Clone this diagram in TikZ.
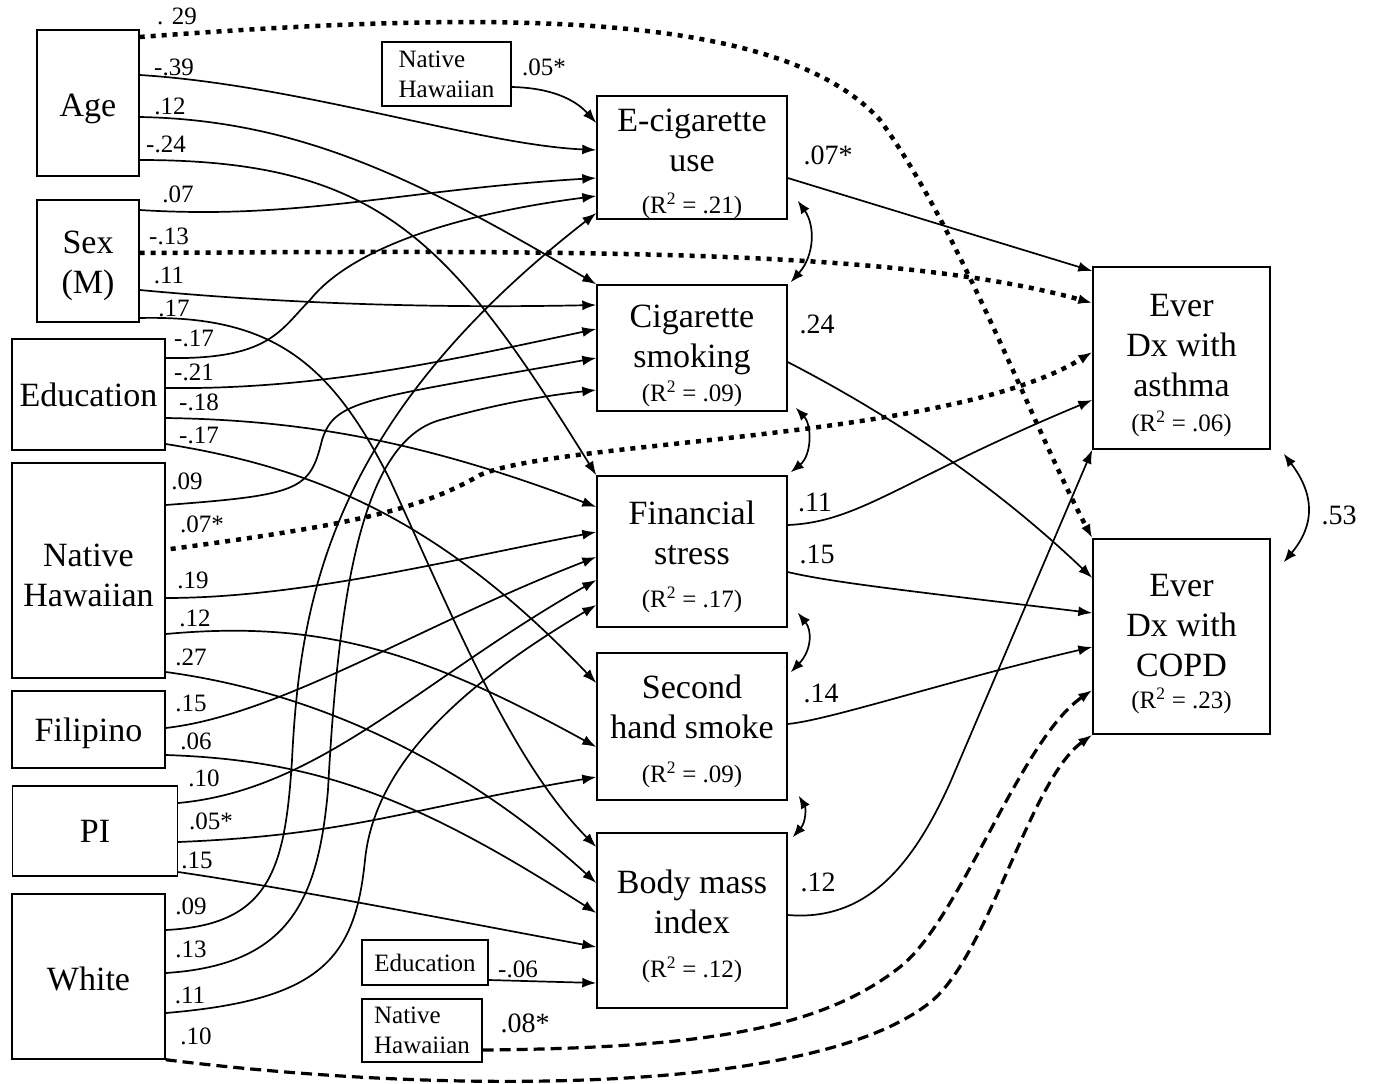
\documentclass[tikz,border=0pt]{standalone}
\usepackage{fontspec}
\setmainfont{Liberation Serif}
\usetikzlibrary{arrows.meta}
\newcommand\rsq[1]{{\fontsize{25}{28}\selectfont(R\textsuperscript{2} = #1)}}
\newcommand\tstrut[1]{\rule{0pt}{#1}}
\begin{document}
\begin{tikzpicture}[x=1pt,y=-1pt,
  box/.style={draw, line width=1.4pt, inner sep=0pt, align=center, font=\fontsize{34}{40}\selectfont},
  sbox/.style={draw, line width=1.2pt, inner sep=0pt, align=left, font=\fontsize{25}{30}\selectfont},
  conn/.style={line width=1.7pt, -{Latex[length=14pt,width=10pt]}},
  dotconn/.style={conn, line width=4.5pt, dash pattern=on 5pt off 6pt},
  dashconn/.style={conn, line width=3.2pt, dash pattern=on 11pt off 6pt},
  cov/.style={line width=1.7pt, {Latex[length=13pt,width=10pt]}-{Latex[length=13pt,width=10pt]}},
  lab/.style={inner sep=0pt, font=\fontsize{25}{25}\selectfont},
  rlab/.style={inner sep=0pt, font=\fontsize{28}{28}\selectfont}]
\useasboundingbox (0,0) rectangle (1374,1084);
\fill[white] (0,0) rectangle (1374,1084);
% exogenous boxes
\node[box, minimum width=102pt, minimum height=146pt] (age) at (88,103) {\tstrut{34pt}Age};
\node[box, minimum width=102pt, minimum height=122pt] (sex) at (88,261) {\tstrut{32pt}Sex\\(M)};
\node[box, minimum width=153pt, minimum height=111pt] (edu) at (88.5,394.5) {Education};
\node[box, minimum width=153pt, minimum height=215pt] (nh) at (88.5,570.5) {\tstrut{32pt}Native\\Hawaiian};
\node[box, minimum width=153pt, minimum height=77pt] (fil) at (88.5,729.5) {\tstrut{31pt}Filipino};
\node[box, minimum width=165pt, minimum height=90pt] (pi) at (95,831) {PI};
\node[box, minimum width=153pt, minimum height=165pt] (white) at (88.5,976.5) {\tstrut{28pt}White};
% mediators
\node[box, minimum width=190pt, minimum height=123pt] (ecig) at (692,157.5) {\tstrut{35pt}E-cigarette\\use\\[2pt]\rsq{.21}};
\node[box, minimum width=190pt, minimum height=126pt] (cig) at (692,348) {\tstrut{38pt}Cigarette\\smoking\\[-6pt]\rsq{.09}};
\node[box, minimum width=190pt, minimum height=151pt] (fin) at (692,551.5) {\tstrut{34pt}Financial\\stress\\[3pt]\rsq{.17}};
\node[box, minimum width=190pt, minimum height=147pt] (shs) at (692,726.5) {\tstrut{33pt}Second\\hand smoke\\[4pt]\rsq{.09}};
\node[box, minimum width=190pt, minimum height=175pt] (bmi) at (692,920.5) {\tstrut{35pt}Body mass\\index\\[4pt]\rsq{.12}};
% outcomes
\node[box, minimum width=177pt, minimum height=182pt] (asth) at (1181.5,358) {\tstrut{38pt}Ever\\Dx with\\asthma\\[-5pt]\rsq{.06}};
\node[box, minimum width=177pt, minimum height=195pt] (copd) at (1181.5,636.5) {\tstrut{38pt}Ever\\Dx with\\COPD\\[-8pt]\rsq{.23}};
% small covariate boxes
\node[sbox, minimum width=129pt, minimum height=64pt] (nhb) at (446.5,74) {Native\\Hawaiian};
\node[sbox, minimum width=126pt, minimum height=45pt] (edub) at (425,962.5) {Education};
\node[sbox, minimum width=120pt, minimum height=63pt] (nhc) at (422,1030.5) {Native\\Hawaiian};

% Age
\draw[dotconn] (age.east |- 0,37) .. controls (500,10) and (780,10) .. (880,120) .. controls (960,230) and (1030,420) .. (copd.north west);
\draw[conn] (age.east |- 0,75) .. controls (300,85) and (480,145) .. (ecig.west |- 0,150);
\draw[conn] (age.east |- 0,117) .. controls (300,120) and (420,180) .. (cig.north west);
\draw[conn] (age.east |- 0,160) .. controls (380,160) and (450,240) .. (fin.north west);
% Sex
\draw[conn] (sex.east |- 0,210) .. controls (300,220) and (400,190) .. (ecig.west |- 0,178);
\draw[dotconn] (sex.east |- 0,253) .. controls (600,250) and (900,250) .. (asth.west |- 0,303);
\draw[conn] (sex.east |- 0,290) .. controls (300,305) and (450,308) .. (cig.west |- 0,305);
\draw[conn] (sex.east |- 0,318) .. controls (270,315) and (330,360) .. (390,480) .. controls (450,610) and (510,760) .. (bmi.west |- 0,847);
% Education
\draw[conn] (edu.east |- 0,358) .. controls (270,360) and (280,330) .. (310,300) .. controls (350,250) and (450,215) .. (ecig.west |- 0,196);
\draw[conn] (edu.east |- 0,388) .. controls (320,390) and (450,360) .. (cig.west |- 0,329);
\draw[conn] (edu.east |- 0,418) .. controls (300,420) and (420,440) .. (fin.west |- 0,507);
\draw[conn] (edu.east |- 0,444) .. controls (330,470) and (450,530) .. (shs.west |- 0,683);
% Native Hawaiian
\draw[conn] (nh.east |- 0,505) .. controls (300,495) and (310,490) .. (322,440) .. controls (335,400) and (360,400) .. (cig.west |- 0,358);
\draw[dotconn] ([xshift=5pt]nh.east |- 0,549) .. controls (350,525) and (420,510) .. (480,475) .. controls (560,440) and (950,440) .. (asth.west |- 0,352);
\draw[conn] (nh.east |- 0,598) .. controls (300,598) and (450,560) .. (fin.west |- 0,532);
\draw[conn] (nh.east |- 0,634) .. controls (320,620) and (420,650) .. (shs.west |- 0,747);
\draw[conn] (nh.east |- 0,672) .. controls (300,690) and (450,750) .. (bmi.west |- 0,883);
% Filipino
\draw[conn] (fil.east |- 0,728) .. controls (280,715) and (420,625) .. (fin.west |- 0,557);
\draw[conn] (fil.east |- 0,755) .. controls (320,760) and (420,800) .. (bmi.west |- 0,913);
% PI
\draw[conn] (pi.east |- 0,803) .. controls (320,790) and (420,680) .. (fin.west |- 0,580);
\draw[conn] (pi.east |- 0,842) .. controls (350,835) and (400,810) .. (shs.west |- 0,777);
\draw[conn] (pi.east |- 0,872) .. controls (300,890) and (450,920) .. (bmi.west |- 0,947);
% White
\draw[conn] (white.east |- 0,930) .. controls (270,925) and (285,870) .. (292,760) .. controls (300,600) and (330,420) .. (ecig.west |- 0,213);
\draw[conn] (white.east |- 0,973) .. controls (290,965) and (318,900) .. (328,790) .. controls (340,560) and (370,440) .. (440,420) .. controls (500,403) and (550,395) .. (cig.west |- 0,390);
\draw[conn] (white.east |- 0,1013) .. controls (320,1000) and (355,960) .. (365,860) .. controls (375,760) and (470,680) .. (fin.west |- 0,605);
\draw[dashconn] (white.south east) .. controls (450,1095) and (820,1095) .. (933,1000) .. controls (990,950) and (1030,780) .. (copd.south west);
% small boxes
\draw[conn] (nhb.east |- 0,87) .. controls (560,88) and (580,105) .. (ecig.west |- 0,123);
\draw[conn] (edub.east |- 0,980) -- (bmi.west |- 0,983);
\draw[dashconn] (nhc.east |- 0,1050) .. controls (700,1048) and (820,1030) .. (900,967) .. controls (960,920) and (1020,740) .. (copd.west |- 0,690);
% mediators to outcomes
\draw[conn] (ecig.east |- 0,178) -- (asth.west |- 0,271);
\draw[conn] (cig.east |- 0,362) .. controls (900,420) and (1000,490) .. (copd.west |- 0,578);
\draw[conn] (fin.east |- 0,525) .. controls (860,522) and (900,480) .. (asth.west |- 0,400);
\draw[conn] (fin.east |- 0,572) .. controls (830,582) and (900,590) .. (copd.west |- 0,613);
\draw[conn] (shs.east |- 0,724) .. controls (830,720) and (950,680) .. (copd.west |- 0,647);
\draw[conn] (bmi.east |- 0,915) .. controls (870,922) and (915,860) .. (950,783) -- (asth.south west);
% covariances
\draw[cov] ([shift={(10,-19)}]ecig.south east) .. controls (815,225) and (815,255) .. ([shift={(3,-2)}]cig.north east);
\draw[cov] ([shift={(8,-4)}]cig.south east) .. controls (812,425) and (812,455) .. ([shift={(3,-3)}]fin.north east);
\draw[cov] ([shift={(10,-15)}]fin.south east) .. controls (812,630) and (812,650) .. ([shift={(3,20)}]shs.north east);
\draw[cov] ([shift={(11,-5)}]shs.south east) .. controls (806,808) and (806,822) .. ([shift={(5,5)}]bmi.north east);
\draw[cov] ([shift={(13,4)}]asth.south east) .. controls (1315,495) and (1315,525) .. ([shift={(13,24)}]copd.north east);

% coefficient labels
\node[lab] (l1) at (177,16) {. 29};
\node[lab] (l2) at (174,67) {-.39};
\node[lab] (l3) at (170,106) {.12};
\node[lab] (l4) at (166,144) {-.24};
\node[lab] (l5) at (178,194) {.07};
\node[lab] (l6) at (169,236) {-.13};
\node[lab] (l7) at (169,275) {.11};
\node[lab] (l8) at (174,308) {.17};
\node[lab] (l9) at (194,338) {-.17};
\node[lab] (l10) at (194,372) {-.21};
\node[lab] (l11) at (199,402) {-.18};
\node[lab] (l12) at (199,435) {-.17};
\node[lab] (l13) at (187,481) {.09};
\node[lab] (l14) at (202,524) {.07*};
\node[lab] (l15) at (193,580) {.19};
\node[lab] (l16) at (195,618) {.12};
\node[lab] (l17) at (191,657) {.27};
\node[lab] (l18) at (191,703) {.15};
\node[lab] (l19) at (196,741) {.06};
\node[lab] (l20) at (204,778) {.10};
\node[lab] (l21) at (211,821) {.05*};
\node[lab] (l22) at (197,860) {.15};
\node[lab] (l23) at (191,906) {.09};
\node[lab] (l24) at (191,949) {.13};
\node[lab] (l25) at (190,995) {.11};
\node[lab] (l26) at (196,1036) {.10};
\node[lab] (l27) at (544,67) {.05*};
\node[lab] (l28) at (518,969) {-.06};
\node[rlab] (l29) at (525,1023) {.08*};
\node[rlab] (l30) at (828,155) {.07*};
\node[rlab] (l31) at (817,324) {.24};
\node[rlab] (l32) at (815,502) {.11};
\node[rlab] (l33) at (817,554) {.15};
\node[rlab] (l34) at (821,693) {.14};
\node[rlab] (l35) at (818,882) {.12};
\node[rlab] (l36) at (1339,515) {.53};
\end{tikzpicture}
\end{document}
